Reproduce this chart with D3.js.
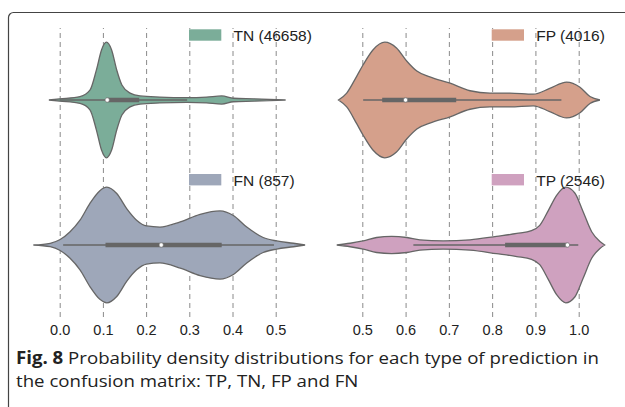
<!DOCTYPE html>
<html>
<head>
  <meta charset="utf-8">
  <title>Fig. 8</title>
</head>
<style>
  body, html { margin: 0; padding: 0; background: #fff; }
  svg { display: block; }
</style>
<body>
  <svg id="svg" width="625" height="407"></svg>

  <script src="https://d3js.org/d3.v7.min.js"></script>
  <script>
    // series
    const names = ['TN', 'FP', 'FN', 'TP']
    const counts = [46658, 4016, 857, 2546]
    const colors = ['#7bad99', '#d5a08b', '#9ea7b9', '#cfa1bf']

    const leftTicks = [0.0, 0.1, 0.2, 0.3, 0.4, 0.5]
    const rightTicks = [0.5, 0.6, 0.7, 0.8, 0.9, 1.0]

    // [probability, relative density]
    const tnDensity = [[-0.025, 0], [0.0, 0.02], [0.047, 0.06], [0.07, 0.17], [0.085, 0.52], [0.097, 0.87],
      [0.108, 1.0], [0.12, 0.87], [0.132, 0.52], [0.144, 0.26], [0.163, 0.12], [0.186, 0.07], [0.232, 0.05],
      [0.294, 0.04], [0.34, 0.05], [0.375, 0.07], [0.402, 0.03], [0.448, 0.02], [0.523, 0]]
    const fpDensity = [[0.445, 0], [0.464, 0.12], [0.487, 0.41], [0.502, 0.61], [0.525, 0.87], [0.552, 1.0],
      [0.579, 0.9], [0.603, 0.67], [0.626, 0.5], [0.656, 0.4], [0.703, 0.29], [0.749, 0.16], [0.795, 0.12],
      [0.841, 0.12], [0.895, 0.1], [0.933, 0.2], [0.972, 0.31], [1.003, 0.22], [1.026, 0.06], [1.049, 0]]
    const fnDensity = [[-0.061, 0], [-0.022, 0.03], [0.0, 0.09], [0.024, 0.23], [0.047, 0.43], [0.07, 0.72],
      [0.093, 0.94], [0.109, 1.0], [0.132, 0.89], [0.155, 0.63], [0.178, 0.43], [0.201, 0.33], [0.232, 0.31],
      [0.279, 0.4], [0.325, 0.53], [0.371, 0.59], [0.402, 0.51], [0.433, 0.31], [0.471, 0.13], [0.502, 0.07],
      [0.541, 0.03], [0.568, 0]]
    const tpDensity = [[0.441, 0], [0.472, 0.03], [0.502, 0.07], [0.533, 0.13], [0.568, 0.15], [0.603, 0.13],
      [0.633, 0.09], [0.687, 0.07], [0.749, 0.09], [0.81, 0.15], [0.857, 0.2], [0.891, 0.25], [0.91, 0.34],
      [0.93, 0.6], [0.949, 0.86], [0.97, 1.0], [0.991, 0.9], [1.01, 0.58], [1.03, 0.23], [1.049, 0.06], [1.06, 0]]

    // [whisker low, q1, median, q3, whisker high]
    const tnBox = [0.0, 0.108, 0.11, 0.184, 0.295]
    const fpBox = [0.502, 0.546, 0.6, 0.717, 0.96]
    const fnBox = [0.008, 0.106, 0.235, 0.375, 0.496]
    const tpBox = [0.618, 0.83, 0.974, 0.976, 0.999]

    const captionBold = 'Fig. 8'
    const captionLine1 = ' Probability density distributions for each type of prediction in'
    const captionLine2 = 'the confusion matrix: TP, TN, FP and FN'

    const svg = d3.select('#svg')

    // frame
    svg.append('rect')
      .attr('x', 8.5).attr('y', 12.5)
      .attr('width', 640).attr('height', 420)
      .attr('rx', 5)
      .attr('fill', 'none')
      .attr('stroke', '#444')
      .attr('stroke-width', 1.2)

    const xL = d3.scaleLinear().domain([0, 0.5]).range([59.7, 275.7])
    const xR = d3.scaleLinear().domain([0.5, 1.0]).range([362.3, 578.7])
    const wScale = d3.scaleLinear().domain([0, 1]).range([0, 57.8])

    const gridTop = 28
    const gridBottom = 317

    function drawAxis(scale, ticks) {
      const g = svg.append('g')
        .attr('transform', `translate(0,${gridBottom})`)
        .call(d3.axisBottom(scale)
          .tickValues(ticks)
          .tickFormat(d3.format('.1f'))
          .tickSizeInner(-(gridBottom - gridTop))
          .tickSizeOuter(0)
          .tickPadding(8))
      g.select('.domain').remove()
      g.selectAll('.tick line')
        .attr('stroke', '#8a8a8a')
        .attr('stroke-width', 1)
        .attr('stroke-dasharray', '5,4')
      g.selectAll('.tick text')
        .attr('fill', '#222')
        .style('font-family', 'Liberation Sans, Arial, sans-serif')
        .style('font-size', '14.5px')
    }
    drawAxis(xL, leftTicks)
    drawAxis(xR, rightTicks)

    const panels = [
      { density: tnDensity, box: tnBox, scale: xL, cy: 100 },
      { density: fpDensity, box: fpBox, scale: xR, cy: 100 },
      { density: fnDensity, box: fnBox, scale: xL, cy: 245 },
      { density: tpDensity, box: tpBox, scale: xR, cy: 245 }
    ]

    panels.forEach((p, i) => {
      const area = d3.area()
        .x(d => p.scale(d[0]))
        .y0(d => p.cy - wScale(d[1]))
        .y1(d => p.cy + wScale(d[1]))
        .curve(d3.curveMonotoneX)

      svg.append('path')
        .attr('d', area(p.density))
        .attr('fill', colors[i])
        .attr('stroke', '#666')
        .attr('stroke-width', 1.3)

      // whiskers
      svg.append('line')
        .attr('x1', p.scale(p.box[0])).attr('x2', p.scale(p.box[4]))
        .attr('y1', p.cy).attr('y2', p.cy)
        .attr('stroke', '#666').attr('stroke-width', 1.3)
      // box
      svg.append('line')
        .attr('x1', p.scale(p.box[1])).attr('x2', p.scale(p.box[3]))
        .attr('y1', p.cy).attr('y2', p.cy)
        .attr('stroke', '#666').attr('stroke-width', 4.5)
      // median
      svg.append('circle')
        .attr('cx', p.scale(p.box[2])).attr('cy', p.cy)
        .attr('r', 2.2)
        .attr('fill', '#fff')
        .attr('stroke', '#666')
        .attr('stroke-width', 0.6)

      // legend
      const lx = p.scale === xL ? 189 : 491.7
      const ly = p.cy === 100 ? 29.3 : 174
      svg.append('rect')
        .attr('x', lx).attr('y', ly)
        .attr('width', 32.3).attr('height', 11.4)
        .attr('fill', colors[i])
      svg.append('text')
        .attr('x', lx + 44.5).attr('y', ly + 11.5)
        .attr('fill', '#222')
        .style('font-family', 'Liberation Sans, Arial, sans-serif')
        .style('font-size', '15.5px')
        .text(`${names[i]} (${counts[i]})`)
    })

    // caption: squeeze both lines by the same factor so line 1 spans the frame
    const cap1 = svg.append('text')
      .attr('x', 16).attr('y', 364)
      .attr('fill', '#222')
      .style('font-family', 'Open Sans, sans-serif')
      .style('font-size', '17px')
    cap1.append('tspan').attr('font-weight', 'bold').text(captionBold)
    cap1.append('tspan').text(captionLine1)

    const cap2 = svg.append('text')
      .attr('x', 16).attr('y', 387)
      .attr('fill', '#222')
      .style('font-family', 'Open Sans, sans-serif')
      .style('font-size', '17px')
      .text(captionLine2)

    const squeeze = 583 / cap1.node().getComputedTextLength()
    const w2 = cap2.node().getComputedTextLength() * squeeze
    cap1.attr('textLength', 583).attr('lengthAdjust', 'spacingAndGlyphs')
    cap2.attr('textLength', w2).attr('lengthAdjust', 'spacingAndGlyphs')
  </script>
</body>
</html>
